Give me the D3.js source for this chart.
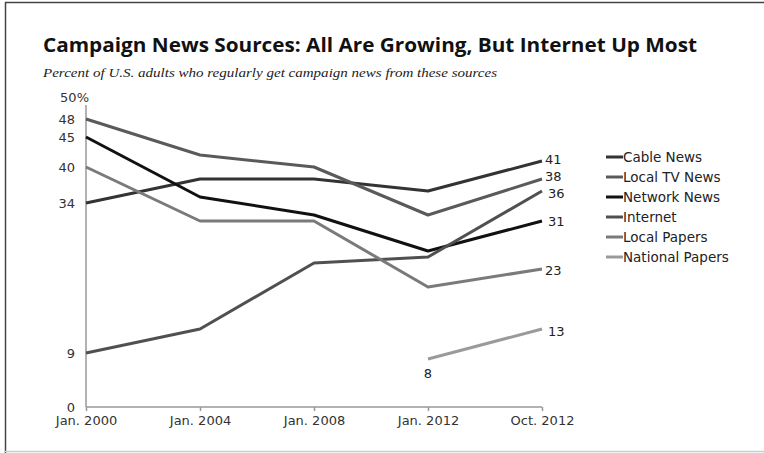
<!DOCTYPE html>
<html><head><meta charset="utf-8">
<script src="https://cdn.jsdelivr.net/npm/d3@7"></script>
<style>body{margin:0;background:#fff}svg{display:block}</style>
</head><body><svg id="c" width="764" height="453"></svg>
<script>
const categories = ["Jan. 2000","Jan. 2004","Jan. 2008","Jan. 2012","Oct. 2012"];
const cableNews = [34,38,38,36,41];
const localTVNews = [48,42,40,32,38];
const networkNews = [45,35,32,26,31];
const internet = [9,13,24,25,36];
const localPapers = [40,31,31,20,23];
const nationalPapers = [null,null,null,8,13];
const seriesNames = ["Cable News","Local TV News","Network News","Internet","Local Papers","National Papers"];
const seriesColors = ["#333333","#5a5a5a","#111111","#505050","#7a7a7a","#9a9a9a"];
const yTickValues = [0,9,34,40,45,48,50];
const yTickLabels = ["0","9","34","40","45","48","50%"];

const seriesData = [cableNews,localTVNews,networkNews,internet,localPapers,nationalPapers];
const svg = d3.select("#c");

// frame
svg.append("line").attr("x1",5).attr("x2",764).attr("y1",2.5).attr("y2",2.5).attr("stroke","#444").attr("stroke-width",1.5);
svg.append("line").attr("x1",5.5).attr("x2",5.5).attr("y1",2).attr("y2",453).attr("stroke","#444").attr("stroke-width",1.5);
svg.append("line").attr("x1",5).attr("x2",764).attr("y1",451.5).attr("y2",451.5).attr("stroke","#ccc").attr("stroke-width",1.5);

svg.append("text").attr("x",43).attr("y",52).attr("font-family","Open Sans, sans-serif").attr("font-weight","bold")
  .attr("font-size",19.5).attr("fill","#111").attr("textLength",654).attr("lengthAdjust","spacingAndGlyphs")
  .text("Campaign News Sources: All Are Growing, But Internet Up Most");
svg.append("text").attr("x",43).attr("y",77).attr("font-family","Liberation Serif, serif").attr("font-style","italic")
  .attr("font-size",13).attr("fill","#222").attr("textLength",454).attr("lengthAdjust","spacingAndGlyphs")
  .text("Percent of U.S. adults who regularly get campaign news from these sources");

const x = d3.scalePoint().domain(categories).range([86,542]);
const y = d3.scaleLinear().domain([0,50]).range([407,107]);

const font = "DejaVu Sans, Verdana, sans-serif";
// y axis
const yAxis = d3.axisLeft(y).tickValues(yTickValues).tickSize(0).tickPadding(11)
  .tickFormat((d,i)=>yTickLabels[i]);
const gy = svg.append("g").attr("transform","translate(86,0)").call(yAxis);
gy.select(".domain").attr("stroke","#999").attr("stroke-width",1.5).attr("d","M0,105V407");
gy.selectAll("text").attr("font-family",font).attr("font-size",13).attr("fill","#333");
gy.selectAll(".tick").filter(d=>d===50).select("text").attr("dx",14).attr("dy",-6);

// x axis
const xAxis = d3.axisBottom(x).tickSize(4).tickPadding(5);
const gx = svg.append("g").attr("transform","translate(0,407)").call(xAxis);
gx.select(".domain").attr("stroke","#999").attr("stroke-width",1.5).attr("d","M86,0H542");
gx.selectAll(".tick line").attr("stroke","#999").attr("stroke-width",1.5);
gx.selectAll("text").attr("font-family",font).attr("font-size",13).attr("fill","#333");

const line = d3.line().defined(d=>d.v!=null).x(d=>x(d.c)).y(d=>y(d.v));
seriesData.forEach((s,i)=>{
  const pts = s.map((v,j)=>({c:categories[j],v}));
  svg.append("path").attr("d",line(pts)).attr("fill","none").attr("stroke",seriesColors[i])
    .attr("stroke-width",3).attr("stroke-linejoin","round");
});

// end labels
const endOffsets = [[3,-2],[3,-3],[6,0],[6,2],[3,1],[6,2]];
seriesData.forEach((s,i)=>{
  const v = s[s.length-1];
  svg.append("text").attr("x",x(categories[4])+endOffsets[i][0]).attr("y",y(v)+endOffsets[i][1]).attr("dy","0.35em")
    .attr("font-family",font).attr("font-size",13).attr("fill","#222").text(String(v));
});
svg.append("text").attr("x",x(categories[3])).attr("y",y(nationalPapers[3])+19).attr("text-anchor","middle")
  .attr("font-family",font).attr("font-size",13).attr("fill","#222").text(String(nationalPapers[3]));

// legend
const lg = svg.append("g").attr("transform","translate(606,157)");
seriesNames.forEach((n,i)=>{
  const g = lg.append("g").attr("transform",`translate(0,${i*20})`);
  g.append("line").attr("x1",0).attr("x2",17).attr("stroke",seriesColors[i]).attr("stroke-width",3);
  g.append("text").attr("x",17).attr("dy","0.35em").attr("font-family",font).attr("font-size",13.5)
    .attr("fill","#222").text(n);
});
</script></body></html>
